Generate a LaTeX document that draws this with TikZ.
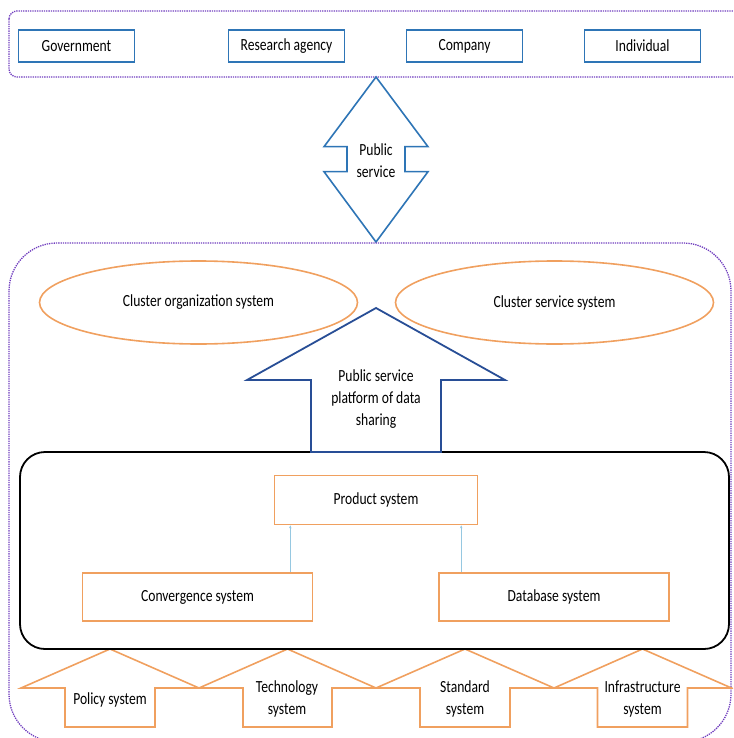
\documentclass[tikz,border=0pt]{standalone}
\usepackage{fontspec}
\setmainfont{Carlito}[FakeStretch=0.8]
\usetikzlibrary{shapes.geometric,arrows.meta}
\definecolor{frameviolet}{RGB}{112,62,190}
\definecolor{boxblue}{RGB}{46,117,182}
\definecolor{arrowblue}{RGB}{40,78,150}
\definecolor{sysorange}{RGB}{240,160,95}
\definecolor{linkblue}{RGB}{150,200,225}
\tikzset{
  dotframe/.style={frameviolet,line width=1.3pt,densely dotted},
  actor/.style={draw=boxblue,line width=1.8pt,minimum width=116pt,minimum height=32pt},
  cluster/.style={ellipse,draw=sysorange,line width=1.6pt,minimum width=318pt,minimum height=83pt},
  sysbox/.style={draw=sysorange,line width=1.6pt,minimum height=48pt},
  pillar/.style={sysorange,line width=1.6pt},
  link/.style={linkblue,line width=0.9pt,-{Stealth[length=3pt,width=2.5pt]}},
  lbl/.style={align=center}
}
\begin{document}
\begin{tikzpicture}[x=1pt,y=-1pt,font=\fontsize{17}{22}\selectfont]
  \useasboundingbox (0,0) rectangle (733,738);
  \clip (0,0) rectangle (733,738);

  % top
  %frame
  \draw[dotframe,rounded corners=8pt] (9,11) rectangle (742,77);
  %actors
  \node[actor] (gov) at (76.5,46) {Government};
  \node[actor] (res) at (286.5,46) {Research agency};
  \node[actor] (com) at (464.5,46) {Company};
  \node[actor] (ind) at (642.5,46) {Individual};

  % public service
  \coordinate (ps-top) at (376,77);
  \coordinate (ps-bot) at (376,242);
  \draw[boxblue,line width=1.6pt,fill=white] (ps-top) -- (324,146.7) -- (347,146.7) -- (347,171.7)
    -- (324,171.7) -- (ps-bot) -- (428,171.7) -- (405,171.7) -- (405,146.7) -- (428,146.7) -- cycle;
  \node[lbl] (ps) at (376,161) {Public\\service};

  % cluster
  %frame
  \draw[dotframe,rounded corners=48pt] (9,243) rectangle (731,742);
  %ellipses
  \node[cluster] (corg) at (198.5,302.5) {Cluster organization system};
  \node[cluster] (cser) at (554.5,302.5) {Cluster service system};

  % bottom pillars
  %edges
  \draw[pillar] (21,688) -- (110,649) -- (199,688) -- (155,688) -- (155,727) -- (65,727) -- (65,688) -- cycle;
  \draw[pillar] (199,688) -- (287.5,649) -- (376,688) -- (332,688) -- (332,727) -- (243,727) -- (243,688) -- cycle;
  \draw[pillar] (376,688) -- (465,649) -- (554,688) -- (510,688) -- (510,727) -- (420,727) -- (420,688) -- cycle;
  \draw[pillar] (554,688) -- (642.5,649) -- (731.5,688) -- (687.5,688) -- (687.5,727) -- (597.5,727) -- (597.5,688) -- cycle;
  %labels
  \node[lbl] (pol) at (110,700) {Policy system};
  \node[lbl] (tec) at (287,699) {Technology\\system};
  \node[lbl] (std) at (465,699) {Standard\\system};
  \node[lbl] (inf) at (642.5,699) {Infrastructure\\system};

  % platform
  \draw[black,line width=1.8pt,rounded corners=25pt] (20,452) rectangle (729,649);
  \draw[arrowblue,line width=1.8pt,fill=white] (311,452) -- (311,380) -- (247,380) -- (376,308)
    -- (505,380) -- (441,380) -- (441,452) -- cycle;
  \node[lbl] (plat) at (376,399) {Public service\\platform of data\\sharing};

  % systems
  \node[sysbox,minimum width=203pt,minimum height=49pt] (prod) at (376,500) {Product system};
  \node[sysbox,minimum width=230pt] (conv) at (197.5,597) {Convergence system};
  \node[sysbox,minimum width=230pt] (db) at (554,597) {Database system};
  %links
  \coordinate (conv-up) at ([xshift=-23pt]conv.north east);
  \coordinate (db-up) at ([xshift=23pt]db.north west);
  \draw[link] (conv-up) -- (conv-up |- prod.south);
  \draw[link] (db-up) -- (db-up |- prod.south);
\end{tikzpicture}
\end{document}
